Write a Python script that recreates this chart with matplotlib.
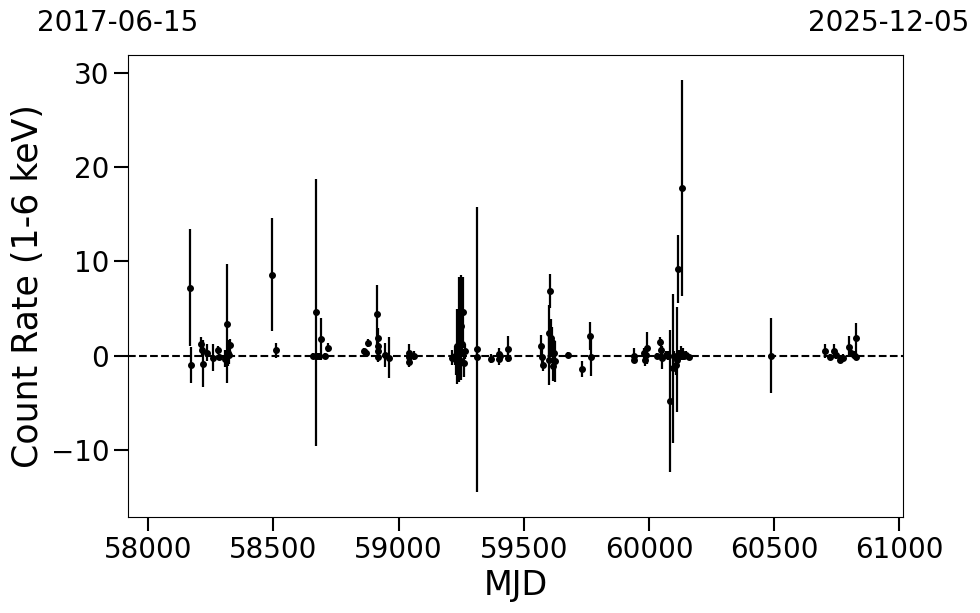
import matplotlib
matplotlib.use("Agg")
import matplotlib.pyplot as plt
import numpy as np

mjd = [58168, 58172, 58212, 58216, 58220, 58236, 58260, 58280, 58284, 58308,
       58316, 58320, 58328, 58324, 58496, 58512,
       58659, 58668, 58675, 58683, 58691, 58707, 58719,
       58863, 58871, 58879, 58915, 58917, 58919, 58916, 58918, 58947, 58963,
       59043, 59043, 59043, 59063,
       59211, 59226, 59230, 59234, 59238, 59242, 59246, 59248, 59250, 59254, 59258, 59262, 59266,
       59311, 59311, 59367, 59400, 59402, 59404, 59435, 59435,
       59570, 59572, 59578, 59600, 59602, 59604, 59608, 59614, 59616, 59620, 59626,
       59678, 59734, 59766, 59768,
       59938, 59938, 59978, 59982, 59990, 59986,
       60030, 60042, 60046, 60050, 60066, 60074,
       60082, 60094, 60110, 60114, 60130,
       60098, 60106, 60120, 60126, 60134, 60138, 60146, 60158,
       60486,
       60701, 60721, 60737, 60745, 60761, 60773, 60797, 60807, 60817, 60825, 60827]
rate = [7.2, -0.95, 1.2, 0.6, -0.85, 0.3, -0.2, 0.6, -0.1, -0.3,
        3.4, 0.3, 1.1, 0.1, 8.6, 0.6,
        0.0, 4.6, 0.0, 0.0, 1.8, 0.0, 0.85,
        0.5, 0.3, 1.35, 4.4, 1.9, 1.0, 0.5, -0.1, 0.1, -0.2,
        0.3, -0.1, -0.65, 0.0,
        -0.2, 0.0, -0.5, 1.0, -1.3, 2.8, 0.3, 3.2, -0.6, 1.2, 4.6, -0.8, 0.5,
        0.7, -0.1, -0.3, 0.2, -0.3, 0.0, 0.75, -0.2,
        1.0, -0.1, -1.0, -0.4, 2.4, 6.9, 1.9, 1.5, -1.1, 0.3, -0.6,
        0.1, -1.4, 2.1, -0.1,
        0.0, -0.4, 0.3, -0.4, 0.8, 0.1,
        0.0, 1.5, 0.6, -0.2, 0.1, 0.0,
        -4.8, -1.3, -0.4, 9.2, 17.8,
        0.0, -1.0, 0.1, 0.3, 0.2, 0.0, 0.1, -0.1,
        0.0,
        0.5, -0.1, 0.5, 0.1, -0.4, -0.2, 0.95, 0.3, 0.1, 1.9, -0.1]
err = [6.2, 1.9, 0.8, 0.7, 2.5, 0.9, 1.4, 0.4, 0.3, 0.9,
       6.3, 1.4, 0.7, 1.0, 6.0, 0.8,
       0.3, 14.2, 0.3, 0.3, 2.2, 0.3, 0.5,
       0.3, 0.4, 0.4, 3.1, 1.0, 1.0, 0.6, 0.6, 1.3, 2.2,
       0.9, 0.4, 0.5, 0.5,
       0.8, 1.0, 1.5, 4.0, 1.0, 5.6, 2.5, 5.4, 2.0, 1.2, 3.8, 1.5, 0.8,
       15.1, 0.4, 0.5, 0.6, 0.7, 0.4, 1.3, 0.5,
       1.2, 0.8, 0.6, 2.7, 3.0, 1.8, 2.0, 1.5, 1.6, 1.0, 2.2,
       0.3, 0.8, 1.5, 2.0,
       0.8, 0.4, 0.5, 0.7, 1.7, 0.4,
       0.3, 0.5, 1.2, 1.2, 0.4, 0.5,
       7.5, 7.9, 5.6, 3.6, 11.5,
       0.5, 1.0, 0.5, 0.7, 0.6, 0.3, 0.4, 0.3,
       4.0,
       0.7, 0.3, 0.7, 0.4, 0.4, 0.4, 1.1, 0.4, 0.4, 1.6, 0.4]

x_limits = (57919, 61014)
date_labels = ["2017-06-15", "2025-12-05"]

fig = plt.figure(figsize=(9.8, 6.13), dpi=100)
ax = fig.add_axes([0.1306, 0.1566, 0.7908, 0.7537])

ax.axhline(0, color="black", ls="--", lw=1.5, zorder=1)
ax.errorbar(mjd, rate, yerr=err, fmt="o", color="black", ms=4,
            elinewidth=1.6, capsize=0, zorder=2)

ax.set_xlim(*x_limits)
ax.set_ylim(-17.1, 31.9)
ax.set_xticks([58000, 58500, 59000, 59500, 60000, 60500, 61000])
ax.set_yticks([-10, 0, 10, 20, 30])
ax.tick_params(axis="both", labelsize=20, length=10, width=1.5)
ax.set_xlabel("MJD", fontsize=24)
ax.set_ylabel("Count Rate (1-6 keV)", fontsize=25)

fig.text(118 / 980, 1 - 23 / 613, date_labels[0], fontsize=20, ha="center", va="center")
fig.text(889 / 980, 1 - 23 / 613, date_labels[1], fontsize=20, ha="center", va="center")

fig.savefig("out.png", dpi=100)
